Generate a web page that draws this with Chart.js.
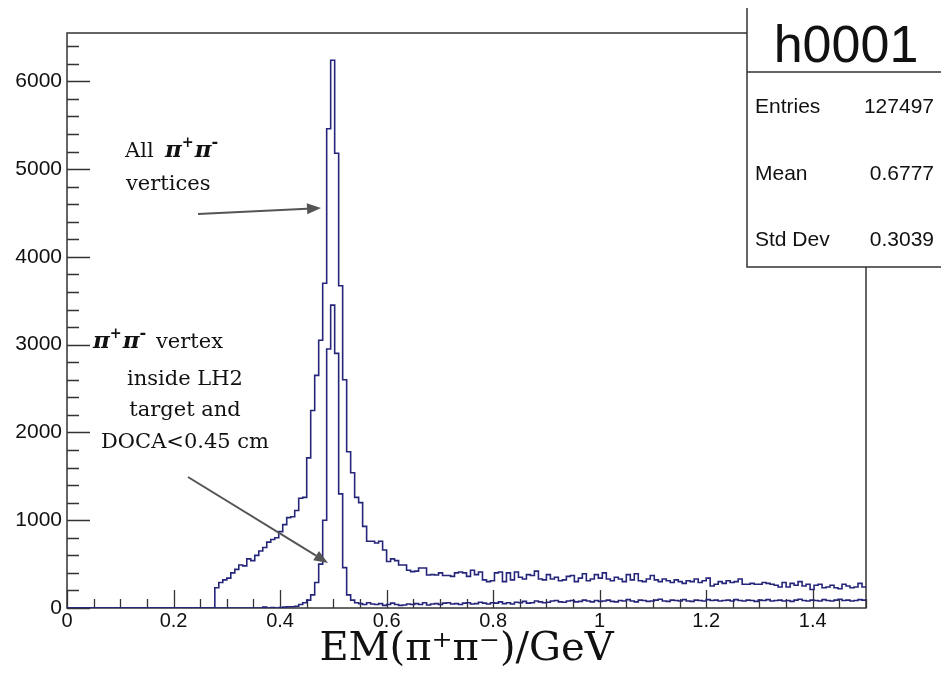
<!DOCTYPE html>
<html><head><meta charset="utf-8">
<script src="https://cdn.jsdelivr.net/npm/chart.js@4"></script>
<style>html,body{margin:0;padding:0;background:#fff;}canvas{display:block;}</style>
</head><body>
<canvas id="c" width="941" height="674"></canvas>
<script>
// ---- data ----
const binWidth = 0.0075;   // 200 bins from 0 to 1.5
const xMin = 0, xMax = 1.5;
const yMin = 0, yMax = 6550;
const xTicks = [0, 0.2, 0.4, 0.6, 0.8, 1, 1.2, 1.4];
const xTickLabels = ['0', '0.2', '0.4', '0.6', '0.8', '1', '1.2', '1.4'];
const yTicks = [0, 1000, 2000, 3000, 4000, 5000, 6000];
const yTickLabels = ['0', '1000', '2000', '3000', '4000', '5000', '6000'];
const xTitle = 'EM(π⁺π⁻)/GeV';

// All pi+pi- vertices
const allVertices = [
  0,0,0,0,0,0,0,0,0,0,0,0,0,0,0,0,0,0,0,0,
  0,0,0,0,0,0,0,0,0,0,0,0,0,0,0,0,0,230,290,320,
  340,400,440,490,480,560,540,600,650,690,750,780,800,870,950,1030,1040,1110,1250,1260,
  1710,2250,2650,3050,3700,5460,6240,5180,3670,2600,1780,1540,1260,1200,930,760,760,740,760,660,
  530,560,540,490,490,430,414,420,455,455,376,380,376,400,370,370,360,400,410,400,
  360,430,380,410,320,300,310,400,410,300,400,320,410,350,330,380,370,420,330,320,
  380,330,350,310,320,360,370,300,340,390,310,330,380,340,400,330,310,350,330,300,
  380,320,390,310,300,330,370,320,300,330,310,290,320,300,280,310,300,330,290,310,
  340,250,270,300,280,310,290,300,330,270,270,280,270,270,290,280,270,260,240,290,
  240,280,260,300,250,270,210,260,270,230,240,260,230,220,270,250,230,240,280,240
];
// vertex inside LH2 target and DOCA<0.45 cm
const insideTarget = [
  0,0,0,0,0,0,0,0,0,0,0,0,0,0,0,0,0,0,0,0,
  0,0,0,0,0,0,0,0,0,0,0,0,0,0,0,0,0,0,0,0,
  0,0,0,0,0,0,0,0,0,10,0,5,0,5,10,15,15,20,40,60,
  90,150,290,500,1000,2950,3450,2900,1300,460,150,90,60,50,40,60,45,40,50,30,
  40,55,40,30,35,45,40,50,40,60,35,45,50,40,55,60,45,50,40,55,
  60,45,50,65,55,45,60,55,70,50,60,45,65,60,75,55,60,80,70,60,
  65,80,85,70,65,80,85,70,75,90,80,70,85,75,80,90,75,70,85,80,
  95,80,70,90,85,75,80,90,100,80,75,90,85,80,95,80,75,90,85,80,
  95,85,90,80,85,90,80,95,85,80,90,85,75,90,85,95,80,85,90,80,
  85,75,90,100,85,80,90,85,80,95,85,80,90,100,85,90,80,85,95,90
];

const statLabels = ['Entries', 'Mean', 'Std Dev'];
const statValues = ['127497', '0.6777', '0.3039'];
const statTitle = 'h0001';

// ---- helpers ----
function histPoints(counts) {
  const pts = counts.map((v, i) => ({ x: xMin + i * binWidth, y: v }));
  pts.push({ x: xMax, y: counts[counts.length - 1] });
  return pts;
}

const LINE = '#25257a';
const FRAME = '#333333';

const framePlugin = {
  id: 'rootFrame',
  beforeDatasetsDraw(chart) {
    const { ctx, chartArea: a, scales: { x, y } } = chart;
    ctx.save();
    ctx.strokeStyle = FRAME;
    ctx.lineWidth = 1.5;
    ctx.strokeRect(a.left, a.top, a.right - a.left, a.bottom - a.top);
    ctx.beginPath();
    for (let v = yMin; v <= yMax; v += 200) {
      const py = Math.round(y.getPixelForValue(v)) + 0.5;
      const len = (v % 1000 === 0) ? 23 : 12;
      ctx.moveTo(a.left, py); ctx.lineTo(a.left + len, py);
    }
    for (let k = 0; k * 0.05 <= xMax + 1e-9; k++) {
      const px = Math.round(x.getPixelForValue(k * 0.05)) + 0.5;
      const len = (k % 4 === 0) ? 18 : 9;
      ctx.moveTo(px, a.bottom); ctx.lineTo(px, a.bottom - len);
    }
    ctx.lineWidth = 1.3;
    ctx.stroke();
    ctx.restore();
  }
};

function arrow(ctx, x1, y1, x2, y2) {
  const ang = Math.atan2(y2 - y1, x2 - x1);
  const L = 14, W = 5.5;
  const bx = x2 - L * Math.cos(ang), by = y2 - L * Math.sin(ang);
  ctx.strokeStyle = '#555'; ctx.fillStyle = '#555'; ctx.lineWidth = 2;
  ctx.beginPath(); ctx.moveTo(x1, y1); ctx.lineTo(bx, by); ctx.stroke();
  ctx.beginPath();
  ctx.moveTo(x2, y2);
  ctx.lineTo(bx + W * Math.sin(ang), by - W * Math.cos(ang));
  ctx.lineTo(bx - W * Math.sin(ang), by + W * Math.cos(ang));
  ctx.closePath(); ctx.fill();
}

const SERIF = '"DejaVu Serif", "Liberation Serif", serif';
function piPair(ctx, x, yb, size) {
  ctx.textAlign = 'left'; ctx.textBaseline = 'alphabetic';
  const parts = [['π', 0, 1], ['+', 0.42, 0.62], ['π', 0, 1], ['-', 0.42, 0.7]];
  for (const [t, rise, sc] of parts) {
    ctx.font = (sc === 1 ? 'bold italic ' : 'bold ') + (size * sc) + 'px ' + SERIF;
    ctx.fillText(t, x, yb - rise * size);
    x += ctx.measureText(t).width + (sc === 1 ? 0 : 1);
  }
  return x;
}

const annotPlugin = {
  id: 'annotations',
  afterDraw(chart) {
    const ctx = chart.ctx;
    ctx.save();
    ctx.fillStyle = '#111';
    ctx.textBaseline = 'alphabetic';
    // label 1
    ctx.font = '21px ' + SERIF; ctx.textAlign = 'left';
    ctx.fillText('All', 125, 157);
    piPair(ctx, 165, 157, 23);
    ctx.font = '21px ' + SERIF; ctx.fillStyle = '#111';
    ctx.fillText('vertices', 126, 190);
    // label 2
    let xe = piPair(ctx, 93, 348, 23);
    ctx.font = '21px ' + SERIF;
    ctx.fillText(' vertex', xe + 2, 348);
    ctx.textAlign = 'center';
    ctx.fillText('inside LH2', 185, 385);
    ctx.fillText('target and', 185, 416);
    ctx.fillText('DOCA<0.45 cm', 185, 448);
    // arrows
    arrow(ctx, 198, 214, 321, 208);
    arrow(ctx, 188, 477, 328, 563);

    // stats box
    const bx = 747, by = 8, bw = 941 - 747 + 5, bh = 267 - 8;
    ctx.fillStyle = '#fff';
    ctx.fillRect(bx, by, bw, bh);
    ctx.strokeStyle = FRAME; ctx.lineWidth = 1.5;
    ctx.beginPath();
    ctx.moveTo(bx, by); ctx.lineTo(bx, by + bh); ctx.lineTo(bx + bw, by + bh);
    ctx.moveTo(bx, 72); ctx.lineTo(bx + bw, 72);
    ctx.stroke();
    ctx.fillStyle = '#111';
    ctx.font = '52px "Liberation Sans", Arial, sans-serif';
    ctx.textAlign = 'center';
    ctx.fillText(statTitle, 846, 62);
    ctx.font = '21px "Liberation Sans", Arial, sans-serif';
    const rows = [113, 180, 246];
    statLabels.forEach((l, i) => {
      ctx.textAlign = 'left'; ctx.fillText(l, 755, rows[i]);
      ctx.textAlign = 'right'; ctx.fillText(statValues[i], 934, rows[i]);
    });
    ctx.restore();
  }
};

new Chart(document.getElementById('c'), {
  type: 'line',
  data: {
    datasets: [
      { label: 'All π+π- vertices', data: histPoints(allVertices), borderColor: LINE, borderWidth: 1.6,
        pointRadius: 0, fill: false, stepped: true, tension: 0 },
      { label: 'vertex inside LH2 target', data: histPoints(insideTarget), borderColor: LINE, borderWidth: 1.6,
        pointRadius: 0, fill: false, stepped: true, tension: 0 }
    ]
  },
  options: {
    responsive: false,
    animation: false,
    devicePixelRatio: 1,
    layout: { padding: { left: 0, top: 33, right: 75, bottom: 0 } },
    plugins: { legend: { display: false }, tooltip: { enabled: false } },
    scales: {
      x: {
        type: 'linear', min: xMin, max: xMax,
        grid: { display: false, drawTicks: false },
        border: { display: false },
        afterBuildTicks: s => { s.ticks = xTicks.map(v => ({ value: v })); },
        afterFit: s => { s.height = 66; },
        ticks: {
          padding: 1, color: '#111', maxRotation: 0, autoSkip: false,
          font: { family: '"Liberation Sans", Arial, sans-serif', size: 20 },
          callback: (v, i) => xTickLabels[i]
        },
        title: {
          display: true, text: xTitle, color: '#111',
          font: { family: '"DejaVu Serif", "Liberation Serif", serif', size: 40 },
          padding: { top: 0, bottom: 0 }
        }
      },
      y: {
        type: 'linear', min: yMin, max: yMax,
        grid: { display: false, drawTicks: false },
        border: { display: false },
        afterBuildTicks: s => { s.ticks = yTicks.map(v => ({ value: v })); },
        afterFit: s => { s.width = 67; },
        ticks: {
          padding: 5, color: '#111',
          font: { family: '"Liberation Sans", Arial, sans-serif', size: 21 },
          callback: (v, i) => yTickLabels[i]
        }
      }
    }
  },
  plugins: [framePlugin, annotPlugin]
});
</script>
</body></html>
